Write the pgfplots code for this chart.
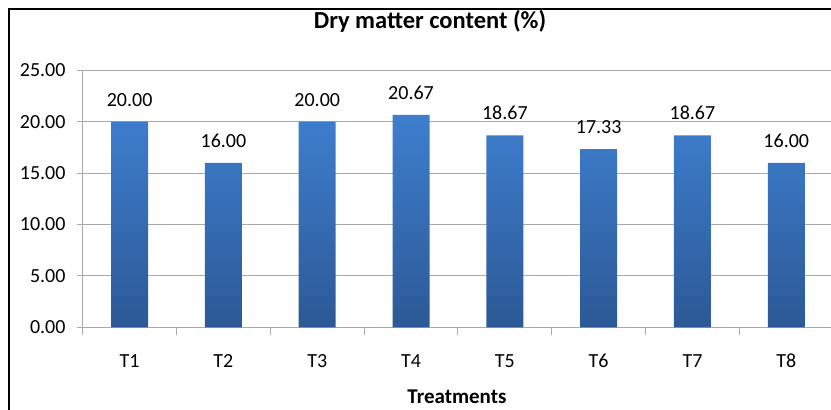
\documentclass[border=0pt]{standalone}
\usepackage{pgfplots}
\pgfplotsset{compat=1.18}
\usepackage{fontspec}
\setmainfont{Carlito}
\definecolor{bartop}{RGB}{62,126,206}
\definecolor{barbot}{RGB}{44,89,150}
\definecolor{gridc}{RGB}{170,170,170}
\begin{document}
\begin{tikzpicture}[x=1pt,y=1pt]
\draw[line width=1.8pt] (9.3,0) -- (9.3,400.7) -- (831,400.7);
\begin{axis}[
  at={(82.7pt,82.7pt)}, anchor=south west,
  scale only axis, width=750.5pt, height=257pt,
  xmin=-0.5, xmax=7.5, ymin=0, ymax=25,
  ytick={0,5,10,15,20,25},
  xtick={0,...,7},
  xticklabels={T1,T2,T3,T4,T5,T6,T7,T8},
  minor xtick={-0.5,0.5,...,7.5},
  major x tick style={draw=none},
  minor x tick style={gridc, line width=0.9pt},
  minor tick length=8pt,
  major tick length=6pt,
  y tick style={gridc, line width=0.9pt},
  tick align=outside,
  ymajorgrids, grid style={gridc, line width=0.9pt},
  axis line style={gridc, line width=0.9pt},
  axis x line*=bottom, axis y line*=left,
  /pgf/number format/assume math mode=true,
  yticklabel={\pgfmathprintnumber[fixed,fixed zerofill,precision=2]{\tick}},
  ticklabel style={font=\fontsize{20}{24}\selectfont},
  yticklabel style={anchor=east, inner sep=0pt, xshift=-11pt},
  xticklabel style={anchor=base, inner sep=0pt, yshift=-34pt},
  every axis title shift=0pt,
  title={Dry matter content (\%)},
  title style={font=\bfseries\fontsize{24.5}{28}\selectfont, at={(axis description cs:0.4628,1.1607)}, anchor=base, inner sep=0pt},
  xlabel={Treatments},
  xlabel style={font=\bfseries\fontsize{21}{25}\selectfont, at={(axis description cs:0.4987,-0.2946)}, anchor=base, inner sep=0pt},
  clip=false,
]
\addplot[ybar, bar width=37pt, draw=none, top color=bartop, bottom color=barbot,
  nodes near coords={\pgfmathprintnumber[fixed,fixed zerofill,precision=2,assume math mode=true]{\pgfplotspointmeta}},
  every node near coord/.append style={anchor=base, inner sep=0pt, yshift=15.5pt, font=\fontsize{20}{24}\selectfont, black}]
  coordinates {(0,20.00) (1,16.00) (2,20.00) (3,20.67) (4,18.67) (5,17.33) (6,18.67) (7,16.00)};
\end{axis}
\pgfresetboundingbox
\useasboundingbox (0,0) rectangle (831,410);
\end{tikzpicture}
\end{document}
